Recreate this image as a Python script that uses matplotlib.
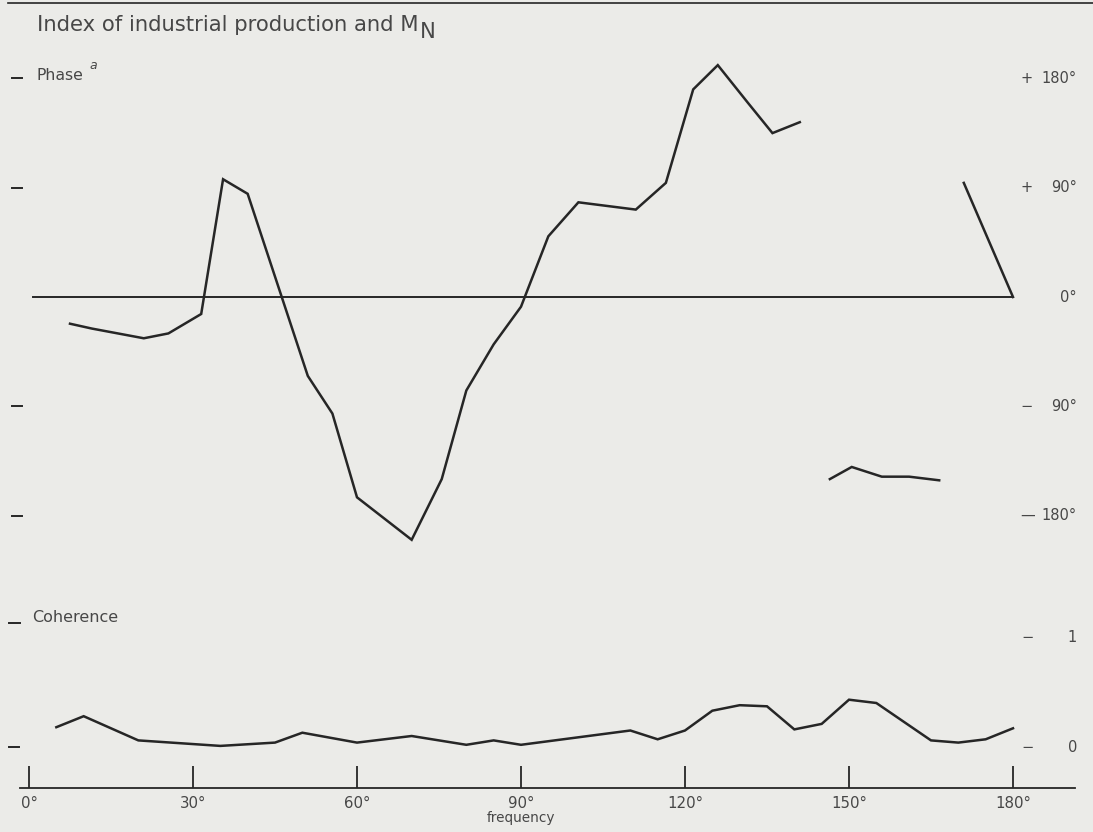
import numpy as np
import matplotlib
matplotlib.use("Agg")
import matplotlib.pyplot as plt
from matplotlib.lines import Line2D

# ---------------- data ----------------
phase_freq_a = [7.5, 11.5, 21, 25.5, 31.5, 35.5, 40, 51, 55.5, 60, 70, 75.5, 80, 85,
                90, 95, 100.5, 111, 116.5, 121.5, 126, 131.5, 136, 141]
phase_val_a = [-22, -26, -34, -30, -14, 97, 85, -65, -96, -165, -200, -150, -77, -39,
               -8, 50, 78, 72, 94, 171, 191, 160, 135, 144]
phase_freq_b = [146.5, 150.5, 156, 161, 166.5]
phase_val_b = [-150, -140, -148, -148, -151]
phase_freq_c = [171, 180]
phase_val_c = [94, 0]

coh_freq = [5, 10, 20, 35, 45, 50, 60, 70, 80, 85, 90, 110, 115, 120, 125, 130, 135,
            140, 145, 150, 155, 165, 170, 175, 180]
coh_val = [0.18, 0.28, 0.06, 0.01, 0.04, 0.13, 0.04, 0.10, 0.02, 0.06, 0.02, 0.15, 0.07,
           0.15, 0.33, 0.38, 0.37, 0.16, 0.21, 0.43, 0.40, 0.06, 0.04, 0.07, 0.17]

phase_ticks = [180, 90, 0, -90, -180]
phase_signs = ["+", "+", "", "\u2212", "\u2014"]
phase_nums = ["180\u00b0", "90\u00b0", "0\u00b0", "90\u00b0", "180\u00b0"]
phase_left_dashes = [180, 90, -90, -180]
coh_ticks = [1, 0]
coh_nums = ["1", "0"]
freq_ticks = [0, 30, 60, 90, 120, 150, 180]
freq_tick_labels = ["0\u00b0", "30\u00b0", "60\u00b0", "90\u00b0", "120\u00b0", "150\u00b0", "180\u00b0"]

title = "Index of industrial production and M"
title_sub = "N"

# ---------------- styling ----------------
W, H, DPI = 1093, 832, 100
BG = "#ebebe8"
INK = "#262626"
TXT = "#474747"
plt.rcParams["font.family"] = ["DejaVu Sans"]

fig = plt.figure(figsize=(W / DPI, H / DPI), dpi=DPI, facecolor=BG)


def px_axes(x0, y0, x1, y1):
    ax = fig.add_axes([x0 / W, 1 - y1 / H, (x1 - x0) / W, (y1 - y0) / H])
    ax.set_facecolor("none")
    return ax


def fx(px):
    return px / W


def fy(py):
    return 1 - py / H


X0, X1 = 29, 1013  # pixel position of 0 deg and 180 deg

# top rule
fig.add_artist(Line2D([fx(8), 1.0], [fy(3), fy(3)], color=INK, lw=1.2))

# ---------------- phase panel ----------------
axp = px_axes(X0, 60, X1, 560)
axp.set_xlim(0, 180)
zero_px, deg_px = 297, 1.214
axp.set_ylim((zero_px - 560) / deg_px, (zero_px - 60) / deg_px)
axp.axis("off")

# title
t = fig.text(fx(37), fy(25), title, fontsize=15.2, color=TXT, ha="left", va="center")
axp.annotate(title_sub, xy=(1.0, 0.0), xycoords=t, xytext=(1.0, -5),
             textcoords="offset points", fontsize=15.2, color=TXT,
             ha="left", va="bottom", annotation_clip=False)

axp.axhline(0, xmin=(33 - X0) / (X1 - X0), xmax=1.0, color=INK, lw=1.4)
for fr, vals in [(phase_freq_a, phase_val_a), (phase_freq_b, phase_val_b),
                 (phase_freq_c, phase_val_c)]:
    axp.plot(fr, vals, color=INK, lw=1.8, solid_joinstyle="miter", clip_on=False)

ytr = axp.get_yaxis_transform()
for v in phase_left_dashes:
    axp.plot([(12 - X0) / (X1 - X0), (22 - X0) / (X1 - X0)], [v, v], transform=ytr,
             color=INK, lw=1.4, clip_on=False)
for v, s, n in zip(phase_ticks, phase_signs, phase_nums):
    if s:
        axp.text((1020 - X0) / (X1 - X0), v, s, transform=ytr, fontsize=10.5, color=TXT,
                 ha="left", va="center")
    axp.text((1077 - X0) / (X1 - X0), v, n, transform=ytr, fontsize=10.5, color=TXT,
             ha="right", va="center")

ph = fig.text(fx(37), fy(76), "Phase", fontsize=11.3, color=TXT, ha="left", va="center")
axp.annotate("a", xy=(1.0, 1.0), xycoords=ph, xytext=(4, 2), textcoords="offset points",
             fontsize=9, style="italic", color=TXT, ha="left", va="center",
             annotation_clip=False)

# ---------------- coherence panel ----------------
axc = px_axes(X0, 600, X1, 760)
axc.set_xlim(0, 180)
c0_px, c_unit = 747, 110
axc.set_ylim((c0_px - 760) / c_unit, (c0_px - 600) / c_unit)
axc.axis("off")
axc.plot(coh_freq, coh_val, color=INK, lw=1.8, solid_joinstyle="miter", clip_on=False)

ctr = axc.get_yaxis_transform()
axc.plot([(9 - X0) / (X1 - X0), (19 - X0) / (X1 - X0)], [0, 0], transform=ctr,
         color=INK, lw=1.4, clip_on=False)
for v, n in zip(coh_ticks, coh_nums):
    axc.text((1021 - X0) / (X1 - X0), v, "\u2212", transform=ctr, fontsize=10.5,
             color=TXT, ha="left", va="center")
    axc.text((1077 - X0) / (X1 - X0), v, n, transform=ctr, fontsize=10.5, color=TXT,
             ha="right", va="center")

fig.add_artist(Line2D([fx(9), fx(20)], [fy(623), fy(623)], color=INK, lw=1.4))
fig.text(fx(32), fy(617), "Coherence", fontsize=11.5, color=TXT, ha="left", va="center")

# ---------------- frequency axis ----------------
axf = px_axes(20, 740, 1075, 788)
deg_w = (X1 - X0) / 180
axf.set_xlim((20 - X0) / deg_w, (1075 - X0) / deg_w)
axf.set_ylim(0, 1)
for side in ["top", "left", "right"]:
    axf.spines[side].set_visible(False)
axf.spines["bottom"].set_color(INK)
axf.spines["bottom"].set_linewidth(1.3)
axf.set_yticks([])
axf.set_xticks(freq_ticks)
axf.set_xticklabels(freq_tick_labels, fontsize=10.8, color=TXT)
axf.tick_params(axis="x", direction="in", length=22 * 0.72, width=1.3, color=INK, pad=6)
axf.text(90, -0.62, "frequency", fontsize=9.8, color=TXT, ha="center", va="center",
         transform=axf.get_xaxis_transform())

fig.savefig("out.png", dpi=DPI, facecolor=BG)
